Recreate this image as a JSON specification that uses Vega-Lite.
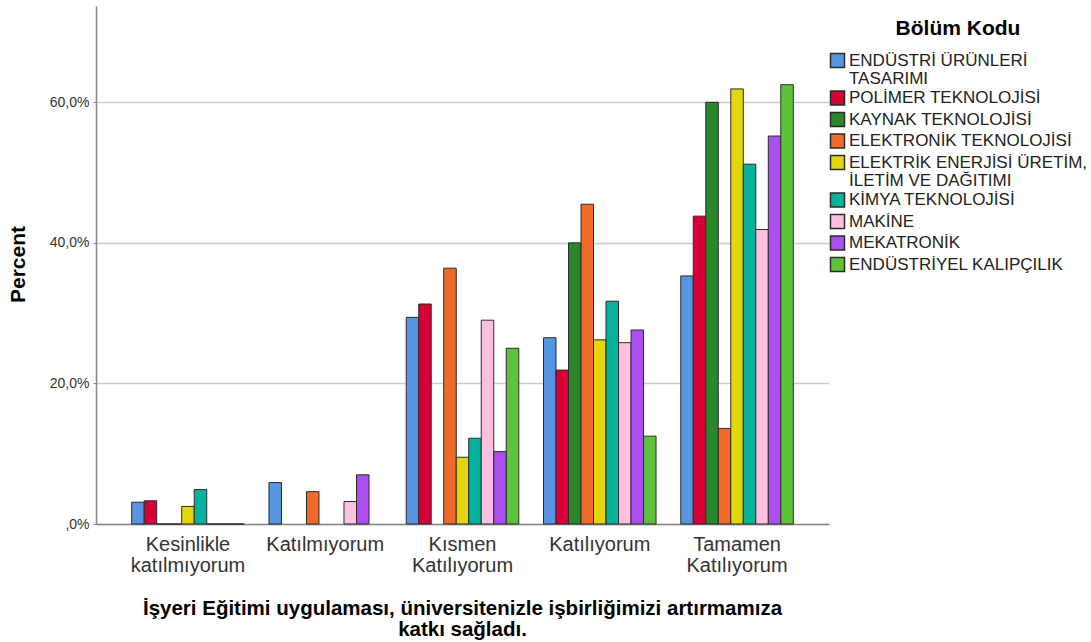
{
  "$schema": "https://vega.github.io/schema/vega-lite/v6.json",
  "autosize": {"type": "none"},
  "padding": {"left": 96, "top": 6, "right": 262, "bottom": 118},
  "width": 733,
  "height": 518,
  "background": "white",
  "config": {
    "view": {"stroke": null},
    "font": "Liberation Sans"
  },
  "data": {
    "values": [
      {"cevap": "Kesinlikle katılmıyorum", "bolum": "ENDÜSTRİ ÜRÜNLERİ TASARIMI", "yuzde": 3.1},
      {"cevap": "Kesinlikle katılmıyorum", "bolum": "POLİMER TEKNOLOJİSİ", "yuzde": 3.3},
      {"cevap": "Kesinlikle katılmıyorum", "bolum": "KAYNAK TEKNOLOJİSİ", "yuzde": 0},
      {"cevap": "Kesinlikle katılmıyorum", "bolum": "ELEKTRONİK TEKNOLOJİSİ", "yuzde": 0},
      {"cevap": "Kesinlikle katılmıyorum", "bolum": "ELEKTRİK ENERJİSİ ÜRETİM, İLETİM VE DAĞITIMI", "yuzde": 2.5},
      {"cevap": "Kesinlikle katılmıyorum", "bolum": "KİMYA TEKNOLOJİSİ", "yuzde": 4.9},
      {"cevap": "Kesinlikle katılmıyorum", "bolum": "MAKİNE", "yuzde": 0},
      {"cevap": "Kesinlikle katılmıyorum", "bolum": "MEKATRONİK", "yuzde": 0},
      {"cevap": "Kesinlikle katılmıyorum", "bolum": "ENDÜSTRİYEL KALIPÇILIK", "yuzde": 0},
      {"cevap": "Katılmıyorum", "bolum": "ENDÜSTRİ ÜRÜNLERİ TASARIMI", "yuzde": 5.9},
      {"cevap": "Katılmıyorum", "bolum": "ELEKTRONİK TEKNOLOJİSİ", "yuzde": 4.6},
      {"cevap": "Katılmıyorum", "bolum": "MAKİNE", "yuzde": 3.2},
      {"cevap": "Katılmıyorum", "bolum": "MEKATRONİK", "yuzde": 7.0},
      {"cevap": "Kısmen Katılıyorum", "bolum": "ENDÜSTRİ ÜRÜNLERİ TASARIMI", "yuzde": 29.4},
      {"cevap": "Kısmen Katılıyorum", "bolum": "POLİMER TEKNOLOJİSİ", "yuzde": 31.3},
      {"cevap": "Kısmen Katılıyorum", "bolum": "ELEKTRONİK TEKNOLOJİSİ", "yuzde": 36.4},
      {"cevap": "Kısmen Katılıyorum", "bolum": "ELEKTRİK ENERJİSİ ÜRETİM, İLETİM VE DAĞITIMI", "yuzde": 9.5},
      {"cevap": "Kısmen Katılıyorum", "bolum": "KİMYA TEKNOLOJİSİ", "yuzde": 12.2},
      {"cevap": "Kısmen Katılıyorum", "bolum": "MAKİNE", "yuzde": 29.0},
      {"cevap": "Kısmen Katılıyorum", "bolum": "MEKATRONİK", "yuzde": 10.3},
      {"cevap": "Kısmen Katılıyorum", "bolum": "ENDÜSTRİYEL KALIPÇILIK", "yuzde": 25.0},
      {"cevap": "Katılıyorum", "bolum": "ENDÜSTRİ ÜRÜNLERİ TASARIMI", "yuzde": 26.5},
      {"cevap": "Katılıyorum", "bolum": "POLİMER TEKNOLOJİSİ", "yuzde": 21.9},
      {"cevap": "Katılıyorum", "bolum": "KAYNAK TEKNOLOJİSİ", "yuzde": 40.0},
      {"cevap": "Katılıyorum", "bolum": "ELEKTRONİK TEKNOLOJİSİ", "yuzde": 45.5},
      {"cevap": "Katılıyorum", "bolum": "ELEKTRİK ENERJİSİ ÜRETİM, İLETİM VE DAĞITIMI", "yuzde": 26.2},
      {"cevap": "Katılıyorum", "bolum": "KİMYA TEKNOLOJİSİ", "yuzde": 31.7},
      {"cevap": "Katılıyorum", "bolum": "MAKİNE", "yuzde": 25.8},
      {"cevap": "Katılıyorum", "bolum": "MEKATRONİK", "yuzde": 27.6},
      {"cevap": "Katılıyorum", "bolum": "ENDÜSTRİYEL KALIPÇILIK", "yuzde": 12.5},
      {"cevap": "Tamamen Katılıyorum", "bolum": "ENDÜSTRİ ÜRÜNLERİ TASARIMI", "yuzde": 35.3},
      {"cevap": "Tamamen Katılıyorum", "bolum": "POLİMER TEKNOLOJİSİ", "yuzde": 43.8},
      {"cevap": "Tamamen Katılıyorum", "bolum": "KAYNAK TEKNOLOJİSİ", "yuzde": 60.0},
      {"cevap": "Tamamen Katılıyorum", "bolum": "ELEKTRONİK TEKNOLOJİSİ", "yuzde": 13.6},
      {"cevap": "Tamamen Katılıyorum", "bolum": "ELEKTRİK ENERJİSİ ÜRETİM, İLETİM VE DAĞITIMI", "yuzde": 61.9},
      {"cevap": "Tamamen Katılıyorum", "bolum": "KİMYA TEKNOLOJİSİ", "yuzde": 51.2},
      {"cevap": "Tamamen Katılıyorum", "bolum": "MAKİNE", "yuzde": 41.9},
      {"cevap": "Tamamen Katılıyorum", "bolum": "MEKATRONİK", "yuzde": 55.2},
      {"cevap": "Tamamen Katılıyorum", "bolum": "ENDÜSTRİYEL KALIPÇILIK", "yuzde": 62.5}
    ]
  },
  "mark": {"type": "bar", "stroke": "#2b2b2b", "strokeWidth": 1},
  "encoding": {
    "x": {
      "field": "cevap",
      "type": "nominal",
      "sort": ["Kesinlikle katılmıyorum", "Katılmıyorum", "Kısmen Katılıyorum", "Katılıyorum", "Tamamen Katılıyorum"],
      "scale": {"paddingInner": 0.18, "paddingOuter": 0.26},
      "axis": {
        "title": ["İşyeri Eğitimi uygulaması, üniversitenizle işbirliğimizi artırmamıza", "katkı sağladı."],
        "titleFont": "Liberation Sans",
        "titleFontSize": 20.5,
        "titleFontWeight": "bold",
        "titleColor": "#000000",
        "titleLineHeight": 21,
        "titleAlign": "center",
        "titleAnchor": null,
        "titleX": 366,
        "titleY": 90,
        "titleBaseline": "alphabetic",
        "labelAngle": 0,
        "labelFontSize": 20,
        "labelLineHeight": 21,
        "labelColor": "#333333",
        "labelPadding": 10,
        "labelBaseline": "top",
        "labelExpr": "datum.label == 'Kesinlikle katılmıyorum' ? ['Kesinlikle', 'katılmıyorum'] : datum.label == 'Kısmen Katılıyorum' ? ['Kısmen', 'Katılıyorum'] : datum.label == 'Tamamen Katılıyorum' ? ['Tamamen', 'Katılıyorum'] : datum.label",
        "ticks": false,
        "domainColor": "#888888",
        "domainWidth": 1.5
      }
    },
    "xOffset": {
      "field": "bolum",
      "type": "nominal",
      "sort": ["ENDÜSTRİ ÜRÜNLERİ TASARIMI", "POLİMER TEKNOLOJİSİ", "KAYNAK TEKNOLOJİSİ", "ELEKTRONİK TEKNOLOJİSİ", "ELEKTRİK ENERJİSİ ÜRETİM, İLETİM VE DAĞITIMI", "KİMYA TEKNOLOJİSİ", "MAKİNE", "MEKATRONİK", "ENDÜSTRİYEL KALIPÇILIK"],
      "scale": {"paddingInner": 0, "paddingOuter": 0}
    },
    "y": {
      "field": "yuzde",
      "type": "quantitative",
      "scale": {"domain": [0, 73.7], "nice": false},
      "axis": {
        "title": "Percent",
        "titleFont": "Liberation Sans",
        "titleFontSize": 21,
        "titleFontWeight": "bold",
        "titleColor": "#000000",
        "titleAngle": 270,
        "titleX": -78,
        "titleY": 258,
        "titleAlign": "center",
        "titleBaseline": "middle",
        "values": [0, 20, 40, 60],
        "labelExpr": "datum.value == 0 ? ',0%' : replace(format(datum.value, '.1f'), '.', ',') + '%'",
        "labelFontSize": 14,
        "labelColor": "#333333",
        "labelPadding": 4,
        "tickSize": 3,
        "tickColor": "#888888",
        "domainColor": "#888888",
        "domainWidth": 1.5,
        "grid": true,
        "gridColor": "#cccccc",
        "gridWidth": 1.5
      }
    },
    "color": {
      "field": "bolum",
      "type": "nominal",
      "sort": ["ENDÜSTRİ ÜRÜNLERİ TASARIMI", "POLİMER TEKNOLOJİSİ", "KAYNAK TEKNOLOJİSİ", "ELEKTRONİK TEKNOLOJİSİ", "ELEKTRİK ENERJİSİ ÜRETİM, İLETİM VE DAĞITIMI", "KİMYA TEKNOLOJİSİ", "MAKİNE", "MEKATRONİK", "ENDÜSTRİYEL KALIPÇILIK"],
      "scale": {
        "domain": ["ENDÜSTRİ ÜRÜNLERİ TASARIMI", "POLİMER TEKNOLOJİSİ", "KAYNAK TEKNOLOJİSİ", "ELEKTRONİK TEKNOLOJİSİ", "ELEKTRİK ENERJİSİ ÜRETİM, İLETİM VE DAĞITIMI", "KİMYA TEKNOLOJİSİ", "MAKİNE", "MEKATRONİK", "ENDÜSTRİYEL KALIPÇILIK"],
        "range": ["#5794e2", "#d60036", "#2a872a", "#f06a2a", "#e3d60c", "#05b29c", "#ffc0df", "#ac4ff0", "#5fc33a"]
      },
      "legend": {
        "title": "Bölüm Kodu",
        "orient": "none",
        "legendX": 733,
        "legendY": 12,
        "padding": 0,
        "titleFont": "Liberation Sans",
        "titleFontSize": 21,
        "titleFontWeight": "bold",
        "titleColor": "#000000",
        "titleAnchor": "middle",
        "titlePadding": 13,
        "symbolType": "square",
        "symbolSize": 196,
        "symbolStrokeColor": "#2b2b2b",
        "symbolStrokeWidth": 1.5,
        "symbolOpacity": 1,
        "labelFontSize": 17,
        "labelColor": "#222222",
        "labelOffset": 3,
        "labelLimit": 400,
        "rowPadding": 0.5,
        "encoding": {
          "labels": {"lineHeight": {"value": 18}}
        },
        "labelExpr": "datum.label == 'ENDÜSTRİ ÜRÜNLERİ TASARIMI' ? ['ENDÜSTRİ ÜRÜNLERİ', 'TASARIMI'] : datum.label == 'ELEKTRİK ENERJİSİ ÜRETİM, İLETİM VE DAĞITIMI' ? ['ELEKTRİK ENERJİSİ ÜRETİM,', 'İLETİM VE DAĞITIMI'] : datum.label"
      }
    }
  }
}
